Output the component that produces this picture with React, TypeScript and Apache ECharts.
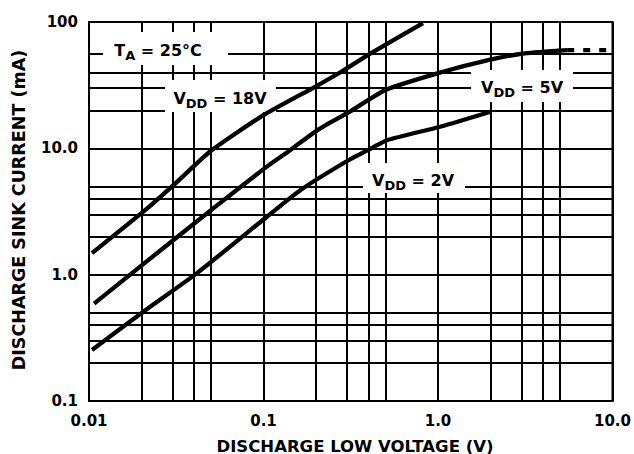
import React, { useEffect, useRef } from "react";
import * as echarts from "echarts";

// ---- data ----
const vdd18: [number, number][] = [
  [0.0104, 1.48], [0.0213, 3.3], [0.0314, 5.3], [0.0502, 9.6], [0.1, 18.3],
  [0.2, 31], [0.276, 40], [0.407, 56], [0.82, 98],
];
const vdd5: [number, number][] = [
  [0.0107, 0.59], [0.0215, 1.28], [0.0528, 3.44], [0.105, 7.2], [0.144, 9.8],
  [0.205, 14], [0.31, 19.4], [0.5, 29], [1.04, 40], [1.94, 50], [3.14, 56.5], [5.5, 60],
];
const vdd5Dashed: [number, number][] = [[5.5, 60], [10, 60]];
const vdd2: [number, number][] = [
  [0.0104, 0.253], [0.0215, 0.535], [0.0405, 1.0], [0.1055, 2.9], [0.164, 4.7],
  [0.3, 7.9], [0.42, 10.1], [0.51, 11.6], [1.04, 14.9], [2.0, 19.5],
];
const xTickLabels = ["0.01", "0.1", "1.0", "10.0"]; // 10^-2 .. 10^1
const yTickLabels = ["0.1", "1.0", "10.0", "100"]; // 10^-1 .. 10^2
const xMinorGrid = [0.02, 0.03, 0.04, 0.05, 0.2, 0.3, 0.4, 0.5, 2, 3, 4, 5];
const yMinorGrid = [0.2, 0.3, 0.4, 0.5, 2, 3, 4, 5, 20, 30, 40, 56];

const F = "DejaVu Sans";

function richLabel(main: string, sub: string, rest: string) {
  return `{m|${main}}{s|${sub}}{m|${rest}}`;
}
const rich = {
  m: { fontSize: 16, fontWeight: "bold", fontFamily: F, lineHeight: 16, verticalAlign: "top", fill: "#000" },
  s: { fontSize: 13, fontWeight: "bold", fontFamily: F, lineHeight: 13, padding: [7, 0, 0, 0], verticalAlign: "top", fill: "#000" },
};

function box(x: number, y: number, w: number, h: number, cx: number, cy: number, text: string) {
  return [
    { type: "rect", z: 4, silent: true, shape: { x, y, width: w, height: h }, style: { fill: "#ffffff", stroke: "none" } },
    {
      type: "text", z: 10, silent: true, x: cx, y: cy,
      style: { text, rich, align: "center", verticalAlign: "middle", fill: "#000", fontFamily: F, fontWeight: "bold", fontSize: 16 },
    },
  ];
}

export default function App() {
  const ref = useRef<HTMLDivElement>(null);
  useEffect(() => {
    if (!ref.current) return;
    const chart = echarts.init(ref.current, null, { renderer: "svg" });
    const curve = (name: string, data: [number, number][], dashed = false) => ({
      name, type: "line", data, symbol: "none", showSymbol: false, z: 6, silent: true,
      smooth: dashed ? false : 0.2,
      lineStyle: { color: "#000", width: 4.3, type: dashed ? [7, 9] : "solid", cap: "butt" },
    });
    chart.setOption({
      animation: false,
      grid: { left: 89, right: 14, top: 22, bottom: 53, show: true, borderColor: "#000", borderWidth: 2 },
      xAxis: {
        type: "log", logBase: 10, min: 0.01, max: 10,
        axisLine: { show: true, lineStyle: { color: "#000", width: 2 } },
        axisTick: { show: false },
        splitLine: { show: true, lineStyle: { color: "#000", width: 2 } },
        axisLabel: {
          color: "#000", fontFamily: F, fontWeight: "bold", fontSize: 15, margin: 12,
          formatter: (v: number) => xTickLabels[Math.round(Math.log10(v)) + 2] ?? "",
        },
      },
      yAxis: {
        type: "log", logBase: 10, min: 0.1, max: 100,
        axisLine: { show: true, lineStyle: { color: "#000", width: 2 } },
        axisTick: { show: false },
        splitLine: { show: true, lineStyle: { color: "#000", width: 2 } },
        axisLabel: {
          color: "#000", fontFamily: F, fontWeight: "bold", fontSize: 15, margin: 11,
          formatter: (v: number) => yTickLabels[Math.round(Math.log10(v)) + 1] ?? "",
        },
      },
      series: [
        {
          type: "line", data: [], z: 1, silent: true,
          markLine: {
            z: 1, silent: true, symbol: ["none", "none"], label: { show: false },
            lineStyle: { color: "#000", width: 2, type: "solid" },
            emphasis: { disabled: true },
            data: [
              ...xMinorGrid.map((v) => ({ xAxis: v })),
              ...yMinorGrid.map((v) => ({ yAxis: v })),
            ],
          },
        },
        curve("VDD = 18V", vdd18),
        curve("VDD = 5V", vdd5),
        curve("VDD = 5V (extrapolated)", vdd5Dashed, true),
        curve("VDD = 2V", vdd2),
      ],
      graphic: [
        ...box(103, 32, 125, 33, 158, 50, richLabel("T", "A", " = 25°C")),
        ...box(165, 80, 111, 32, 220, 98, richLabel("V", "DD", " = 18V")),
        ...box(471, 70, 102, 32, 522, 87, richLabel("V", "DD", " = 5V")),
        ...box(363, 163, 102, 30, 413, 180, richLabel("V", "DD", " = 2V")),
        {
          type: "text", z: 10, silent: true, x: 19, y: 210, rotation: Math.PI / 2,
          style: { text: "DISCHARGE SINK CURRENT (mA)", align: "center", verticalAlign: "middle", fill: "#000", fontFamily: F, fontWeight: "bold", fontSize: 17.5 },
        },
        {
          type: "text", z: 10, silent: true, x: 355, y: 446,
          style: { text: "DISCHARGE LOW VOLTAGE (V)", align: "center", verticalAlign: "middle", fill: "#000", fontFamily: F, fontWeight: "bold", fontSize: 16.5 },
        },
      ],
    });
    return () => chart.dispose();
  }, []);
  return <div ref={ref} style={{ position: "absolute", left: 0, top: 0, width: 634, height: 454 }} />;
}
